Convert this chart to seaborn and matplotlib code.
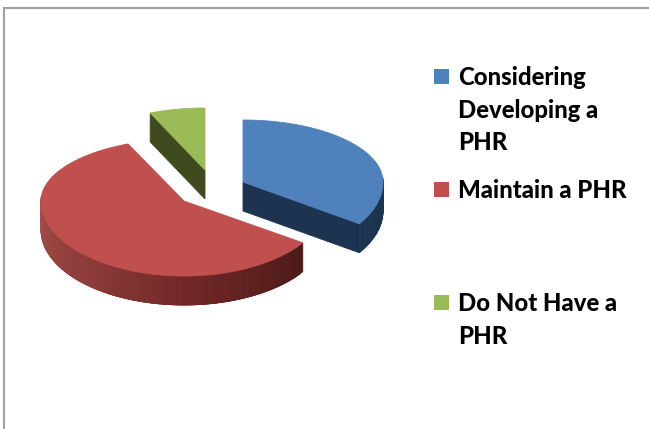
#!/usr/bin/env python3
import numpy as np
import matplotlib
matplotlib.use("Agg")
import matplotlib.pyplot as plt
from matplotlib.patches import Polygon, Rectangle
import seaborn as sns

# values, percent
categories = ["Considering\nDeveloping a\nPHR", "Maintain a PHR", "Do Not Have a\nPHR"]
values = [34.4, 59.2, 6.4]
top_colors = ["#4f81bd", "#c0504d", "#9bbb59"]
wall_colors = ["#1d3450", "#4c1b19", "#3f4a1e"]


def rim(center, start, stop, rx, ry_far=62, ry_near=75):
    # outline of one exploded slice, angles clockwise from 12 o'clock
    t = np.radians(np.linspace(start, stop, 120))
    ry = np.where(np.cos(t) > 0, ry_far, ry_near)
    return center[0] + rx * np.sin(t), center[1] - ry * np.cos(t)


def extrude(ax, x0, y0, x1, y1, color, depth=29):
    ax.add_patch(Polygon([(x0, y0), (x1, y1), (x1, y1 + depth), (x0, y0 + depth)],
                         closed=True, fc=color, ec=color, lw=0.6))


def draw_pie(ax):
    centers = [(243, 182), (184, 201), (205, 170)]
    radii = [140, 143, 140]
    angles = np.cumsum([0] + values) * 3.6

    # green and blue go first, red sits in front
    for i in [2, 0, 1]:
        cx, cy = centers[i]
        x, y = rim(centers[i], angles[i], angles[i + 1], radii[i])

        if i == 1:
            # outer wall with the dark gradient, only the near side shows
            keep = np.where(angles[i] + (angles[i + 1] - angles[i]) * np.arange(120) / 119 < 275)[0]
            shades = sns.blend_palette(["#4c1b19", "#6e2725", "#8f3d3a", "#a44e4b"], len(keep))
            # strips overlap so no seams show between them
            for j, k in enumerate(keep[:-1]):
                end = min(k + 3, keep[-1])
                extrude(ax, x[k], y[k], x[end], y[end], shades[j])
        else:
            for k in range(len(x) - 1):
                if y[k] > cy - 6:
                    extrude(ax, x[k], y[k], x[k + 1], y[k + 1], wall_colors[i])

        # cut faces
        if i == 0:
            extrude(ax, cx, cy, x[-1], y[-1], wall_colors[i])
        if i == 2:
            extrude(ax, x[0], y[0], cx, cy, wall_colors[i])

        ax.add_patch(Polygon(np.column_stack([np.r_[cx, x], np.r_[cy, y]]),
                             closed=True, fc=top_colors[i], ec=top_colors[i], lw=0.6))


def draw_legend(ax):
    rows = [78, 191, 304]
    for label, color, row in zip(categories, top_colors, rows):
        ax.add_patch(Rectangle((434, row - 9), 15, 15, fc=color, ec="none"))
        ax.text(458, row - 12, label, fontsize=17.2, fontweight=900, family="Lato",
                color="black", va="top", ha="left", linespacing=1.5)


def main():
    sns.set_theme(style="white")
    fig = plt.figure(figsize=(6.49, 4.29), dpi=100)
    ax = fig.add_axes([0, 0, 1, 1])
    ax.set_xlim(0, 649)
    ax.set_ylim(429, 0)
    ax.axis("off")

    draw_pie(ax)
    draw_legend(ax)

    # chart frame, open on the right and the bottom
    ax.plot([3.5, 3.5, 649], [429, 8, 8], color="#a0a0a0", lw=1.5, solid_joinstyle="miter")

    fig.savefig("out.png", dpi=100)
    plt.close(fig)


if __name__ == "__main__":
    main()
